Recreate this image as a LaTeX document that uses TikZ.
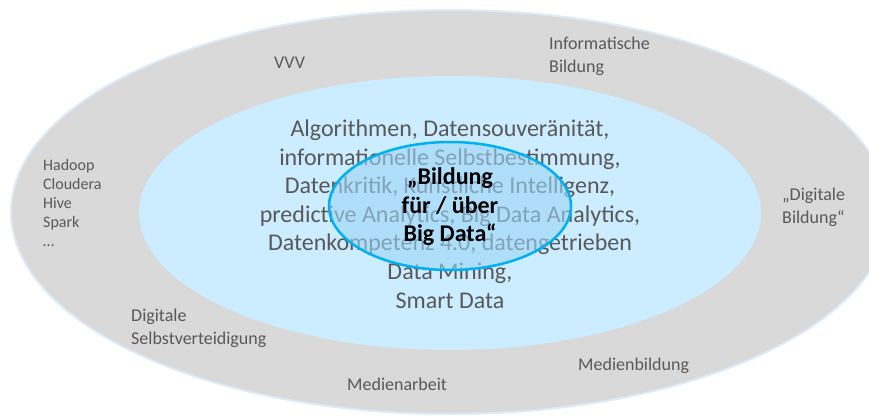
\documentclass[tikz,border=0pt]{standalone}
\usepackage{fontspec}
\setmainfont{Carlito}
\definecolor{ringgray}{HTML}{D9D9D9}
\definecolor{ringedge}{HTML}{DDEBF7}
\definecolor{midblue}{HTML}{CCECFF}
\definecolor{coreblue}{RGB}{157,213,247}
\definecolor{coreedge}{HTML}{00B0F0}
\definecolor{labelgray}{HTML}{595959}
\begin{document}
\begin{tikzpicture}[x=1pt,y=-1pt,
  smalllabel/.style={anchor=west,inner sep=0pt,align=left,text=labelgray,
    font=\fontsize{18}{23}\selectfont},
  listlabel/.style={anchor=west,inner sep=0pt,align=left,text=labelgray,
    font=\fontsize{16}{19}\selectfont},
  topiclist/.style={inner sep=0pt,align=center,text=labelgray,
    font=\fontsize{24}{28.6}\selectfont},
  corelabel/.style={inner sep=0pt,align=center,text=black,
    font=\fontsize{24}{28.6}\selectfont\bfseries}]
\useasboundingbox (0,0) rectangle (869,415);
\begin{scope}
\clip (0,0) rectangle (869,415);
% outer ring
\draw[ringedge,line width=2pt,fill=ringgray] (450,212) ellipse [x radius=439,y radius=202];
% middle area
\fill[midblue] (450,213) ellipse [x radius=311,y radius=137];
\end{scope}
% topics of the middle area
\node[topiclist] (topics) at (450,214) {Algorithmen, Datensouveränität,\\
informationelle Selbstbestimmung,\\
Datenkritik, Künstliche Intelligenz,\\
predictive Analytics, Big Data Analytics,\\
Datenkompetenz 4.0, datengetrieben\\
Data Mining,\\
Smart Data};
% core ellipse, semi-transparent over the topics
\draw[coreedge,line width=2.5pt,fill=coreblue,fill opacity=0.6] (450,206) ellipse [x radius=121,y radius=64];
\node[corelabel] (core) at (450,207) {„Bildung\\für / über\\Big Data“};
% labels of the outer ring
\node[smalllabel] (vvv) at (274,63) {VVV};
\node[smalllabel] (infbild) at (549,56.5) {Informatische\\Bildung};
\node[listlabel] (tools) at (43,203) {Hadoop\\Cloudera\\Hive\\Spark\\…};
\node[smalllabel] (digbild) at (782,207) {„Digitale\\Bildung“};
\node[smalllabel] (selbst) at (131,328.5) {Digitale\\Selbstverteidigung};
\node[smalllabel] (medbild) at (578,366) {Medienbildung};
\node[smalllabel] (medarb) at (347,384) {Medienarbeit};
\end{tikzpicture}
\end{document}
